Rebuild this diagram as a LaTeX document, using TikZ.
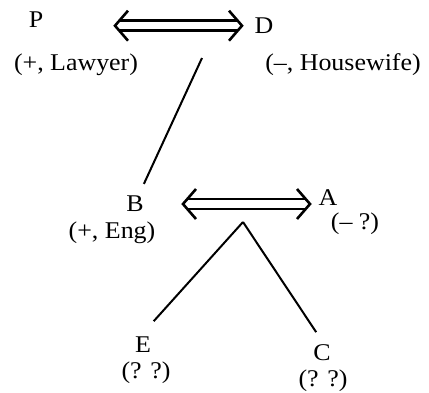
\documentclass[tikz,border=0pt]{standalone}
\usepackage{fontspec}
\setmainfont{Liberation Serif}
\usepackage{graphicx}
\usetikzlibrary{calc}
\newcommand\wide[1]{\scalebox{1.08}[1]{#1}}

\begin{document}
\begin{tikzpicture}[x=1pt,y=-1pt,
 lt/.style={anchor=base,inner sep=3pt,font=\fontsize{24}{26}\selectfont},
 ln/.style={line width=2pt},
 dbl/.style={line width=2.6pt}]
\useasboundingbox (0,0) rectangle (429,392);
% people
\node[lt] (P) at (36,27) {\wide{P}};
\node[lt] (Pl) at (76,70) {\wide{(+, Lawyer)}};
\node[lt] (D) at (264,33) {\wide{D}};
\node[lt] (Dl) at (343,70) {\wide{(--, Housewife)}};
\node[lt] (B) at (135,211) {\wide{B}};
\node[lt] (Bl) at (112,238) {\wide{(+, Eng)}};
\node[lt] (A) at (328,205) {\wide{A}};
\node[lt] (Al) at (355,229) {\wide{(-- ?)}};
\node[lt] (E) at (143,352) {\wide{E}};
\node[lt] (El) at (146,378) {\wide{(? ?)}};
\node[lt] (C) at (322,360) {\wide{C}};
\node[lt] (Cl) at (323,386) {\wide{(? ?)}};
% arrow ends and line ends
\coordinate (pdl) at (115,25.7);
\coordinate (pdr) at (242,25.7);
\coordinate (bal) at (183,204);
\coordinate (bar) at (310,204);
\coordinate (pd) at (202,58);
\coordinate (ba) at (243,222);
% marriages
\foreach \l/\r in {pdl/pdr,bal/bar} {
 \draw[dbl] ([shift={(5,-5)}]\l) -- ([shift={(-5,-5)}]\r)
  ([shift={(5,5)}]\l) -- ([shift={(-5,5)}]\r);
 \draw[dbl] ([shift={(13,-15)}]\l) -- (\l) -- ([shift={(13,15)}]\l);
 \draw[dbl] ([shift={(-13,-15)}]\r) -- (\r) -- ([shift={(-13,15)}]\r);
}
% children
\draw[ln,shorten >=9pt] (pd) -- (B);
\draw[ln,shorten >=16pt] (ba) -- (E.north);
\draw[ln,shorten >=10.5pt] (ba) -- (C.north);
\end{tikzpicture}
\end{document}
